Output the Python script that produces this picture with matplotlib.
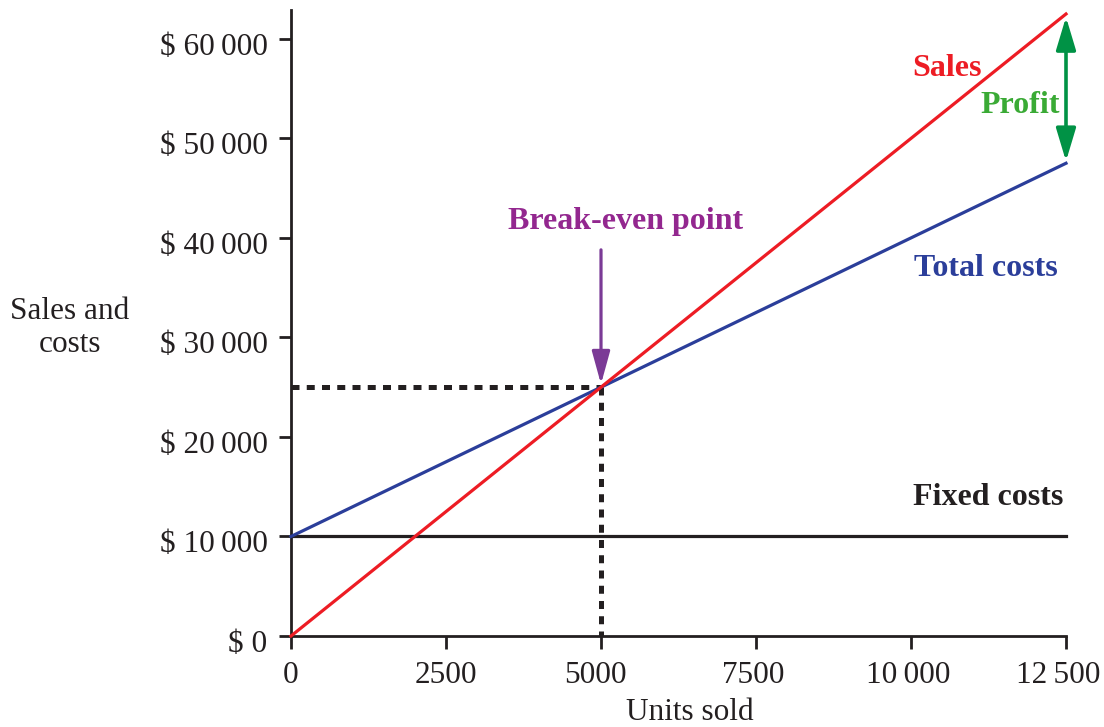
import matplotlib
matplotlib.use("Agg")
import matplotlib.pyplot as plt
from matplotlib.transforms import ScaledTranslation
import numpy as np

units = [0, 12500]
sales = [0, 62500]
total_costs = [10000, 47500]
fixed_costs = [10000, 10000]
break_even = (5000, 25000)

SP = "\u2009"
x_ticks = [0, 2500, 5000, 7500, 10000, 12500]
x_tick_labels = ["0", "2500", "5000", "7500", "10" + SP + "000", "12" + SP + "500"]
y_ticks = [0, 10000, 20000, 30000, 40000, 50000, 60000]
y_tick_labels = ["$ 0", "$ 10" + SP + "000", "$ 20" + SP + "000", "$ 30" + SP + "000",
                 "$ 40" + SP + "000", "$ 50" + SP + "000", "$ 60" + SP + "000"]

plt.rcParams['font.family'] = ['Liberation Serif', 'DejaVu Serif']

RED = "#ED1C24"
BLUE = "#2B3E9A"
PURPLE = "#93278F"
PURPLE_ARROW = "#7B3A96"
GREEN_TXT = "#3AAA35"
GREEN_ARROW = "#009245"
BLACK = "#231F20"

fig = plt.figure(figsize=(11.04, 7.27), dpi=100)
ax = fig.add_axes([291/1104, 1-636/727, (1066-291)/1104, (636-10)/727])
ax.set_xlim(0, 12500)
ax.set_ylim(0, 62900)

for s in ["top", "right"]:
    ax.spines[s].set_visible(False)
for s in ["left", "bottom"]:
    ax.spines[s].set_linewidth(2.0)
    ax.spines[s].set_color(BLACK)

ax.set_xticks(x_ticks)
ax.set_xticklabels(x_tick_labels)
ax.set_yticks(y_ticks)
ax.set_yticklabels(y_tick_labels)
ax.tick_params(axis="both", direction="out", length=9, width=2.0, color=BLACK,
               labelsize=22.5, labelcolor=BLACK)
ax.tick_params(axis="x", pad=9)
ax.tick_params(axis="y", pad=8)

# small typographic offsets of tick labels (as in the reference)
x_offsets_px = [0, 0, -6, -3, -3, -8]
for lab, dx in zip(ax.get_xticklabels(), x_offsets_px):
    lab.set_transform(lab.get_transform() + ScaledTranslation(dx / 100, 0, fig.dpi_scale_trans))
for lab in ax.get_yticklabels():
    lab.set_transform(lab.get_transform() + ScaledTranslation(0, -5 / 100, fig.dpi_scale_trans))

# dashed lines
bx, by = break_even
ax.plot([0, bx], [by, by], color=BLACK, lw=3.6, linestyle=(0, (1.6, 1.45)),
        dash_capstyle="butt", zorder=2)
ax.plot([bx, bx], [by, 0], color=BLACK, lw=3.6, linestyle=(0, (1.6, 1.45)),
        dash_capstyle="butt", zorder=2)

ax.plot(units, fixed_costs, color=BLACK, lw=2.3, zorder=3, clip_on=False)
ax.plot(units, total_costs, color=BLUE, lw=2.3, zorder=4, clip_on=False)
ax.plot(units, sales, color=RED, lw=2.3, zorder=5, clip_on=False)

# break-even arrow
ax.annotate("", xy=(bx, by + 300), xytext=(bx, 38800),
            arrowprops=dict(arrowstyle="-|>,head_length=2.0,head_width=0.55",
                            color=PURPLE_ARROW, lw=2.3, shrinkA=0, shrinkB=0))
ax.text(5390, 41600, "Break-even point", color=PURPLE, fontsize=23,
        fontweight="bold", ha="center", va="center")

# profit arrow
ax.annotate("", xy=(12500, sales[1] - 300), xytext=(12500, total_costs[1] + 200),
            arrowprops=dict(arrowstyle="<|-|>,head_length=2.0,head_width=0.6",
                            color=GREEN_ARROW, lw=2.6, shrinkA=0, shrinkB=0),
            annotation_clip=False)

ax.text(10580, 57000, "Sales", color=RED, fontsize=23, fontweight="bold",
        ha="center", va="center")
ax.text(11760, 53300, "Profit", color=GREEN_TXT, fontsize=23, fontweight="bold",
        ha="center", va="center")
ax.text(11200, 36900, "Total costs", color=BLUE, fontsize=23, fontweight="bold",
        ha="center", va="center")
ax.text(11240, 13900, "Fixed costs", color=BLACK, fontsize=23, fontweight="bold",
        ha="center", va="center")

fig.text(70/1104, 1-328/727, "Sales and\ncosts", fontsize=22.5, ha="center",
         va="center", color=BLACK, linespacing=1.2)
fig.text(690/1104, 1-713/727, "Units sold", fontsize=22.5, ha="center",
         va="center", color=BLACK)

fig.savefig("out.png", dpi=100)
